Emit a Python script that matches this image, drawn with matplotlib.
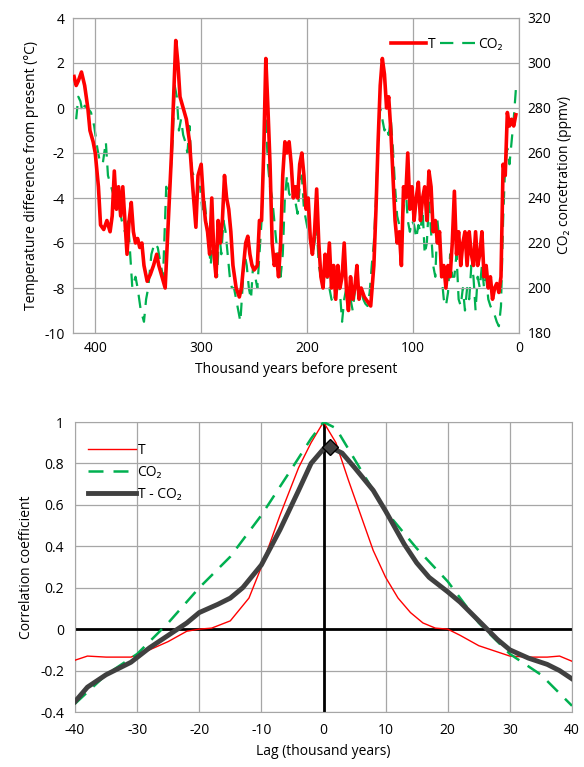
import numpy as np
from matplotlib import pyplot as plt

plt.rcParams["font.family"] = ["Open Sans", "DejaVu Sans"]
plt.rcParams["font.size"] = 10
plt.rcParams["axes.unicode_minus"] = False

# top panel: temperature (deg C) and CO2 (ppmv) vs age (kyr BP)
t_age = [420, 418, 416, 413, 410, 407, 405, 402, 400, 397, 395, 392, 389, 386, 384, 382, 380, 378, 376, 374,
         372, 370, 368, 366, 364, 362, 360, 358, 356, 354, 351, 348, 345, 342, 340, 337, 334, 332, 330, 328,
         326, 324, 322, 320, 317, 314, 311, 308, 305, 303, 300, 298, 296, 294, 292, 290, 288, 286, 284, 282,
         280, 278, 276, 274, 272, 270, 267, 264, 262, 260, 258, 256, 254, 252, 250, 247, 245, 243, 241, 239,
         237, 235, 233, 231, 229, 227, 225, 223, 221, 219, 217, 215, 213, 211, 209, 207, 205, 203, 201, 199,
         197, 195, 193, 191, 189, 187, 185, 183, 181, 179, 177, 175, 173, 171, 169, 167, 165, 163, 161, 159,
         157, 155, 153, 151, 149, 146, 143, 140, 137, 135, 133, 131, 129, 127, 125, 123, 121, 119, 117, 115,
         113, 111, 109, 107, 105, 103, 101, 99, 97, 95, 93, 91, 89, 87, 85, 83, 81, 79, 77, 75,
         73, 71, 69, 67, 65, 63, 61, 59, 57, 55, 53, 51, 49, 47, 45, 43, 41, 39, 37, 35,
         33, 31, 29, 27, 25, 23, 21, 19, 17, 15, 13, 11, 9, 7, 5, 3]
t_val = [1.4, 1.0, 1.2, 1.6, 1.0, 0.0, -1.0, -1.5, -2.0, -3.5, -5.2, -5.4, -5.0, -5.5, -4.8, -2.8, -4.5, -3.5, -4.8, -3.5,
         -5.0, -6.5, -5.0, -4.2, -5.5, -6.0, -5.8, -6.2, -6.0, -7.0, -7.7, -7.4, -7.0, -6.5, -7.0, -7.5, -8.0, -6.0, -4.0, -2.0,
         0.5, 3.0, 2.0, 0.5, 0.0, -0.5, -1.5, -3.5, -5.3, -3.0, -2.5, -4.0, -5.0, -5.5, -6.5, -4.0, -6.5, -7.5, -5.0, -6.0,
         -5.0, -3.0, -4.0, -4.5, -5.5, -7.0, -8.0, -8.4, -8.0, -7.0, -6.0, -5.7, -6.5, -7.0, -7.2, -7.0, -5.0, -5.0, -2.0, 2.2,
         0.0, -2.5, -6.0, -7.0, -6.5, -7.5, -6.0, -3.0, -1.5, -2.0, -1.5, -2.5, -4.0, -3.5, -4.0, -2.5, -2.0, -3.0, -4.5, -4.0,
         -5.8, -6.5, -5.5, -3.6, -6.0, -7.5, -8.0, -6.5, -7.5, -6.0, -8.0, -7.0, -8.5, -7.0, -8.0, -7.5, -6.0, -8.0, -9.0, -7.5,
         -8.5, -8.0, -7.0, -8.5, -8.0, -8.4, -8.6, -8.8, -7.0, -4.5, -1.5, 1.0, 2.2, 1.5, 0.0, 0.5, -1.0, -3.0, -5.0, -6.0,
         -5.5, -7.0, -3.5, -4.0, -2.0, -4.5, -3.5, -5.0, -4.0, -3.3, -5.0, -4.0, -3.5, -5.0, -2.8, -3.5, -5.5, -5.0, -6.0, -5.5,
         -7.5, -7.0, -8.0, -7.0, -7.5, -6.0, -3.7, -6.5, -5.5, -7.0, -6.0, -5.5, -7.0, -5.5, -6.5, -7.0, -5.5, -7.0, -6.5, -5.5,
         -7.5, -7.0, -8.0, -7.5, -8.5, -8.0, -7.8, -8.2, -7.5, -2.5, -3.0, -0.2, -0.8, -0.5, -0.8, -0.3]

co2_age = [418, 416, 414, 412, 410, 407, 404, 401, 398, 396, 393, 390, 388, 385, 382, 380, 377, 375, 372, 369,
           367, 365, 362, 360, 357, 354, 352, 350, 347, 344, 341, 338, 336, 333, 331, 329, 327, 325, 323, 321,
           319, 317, 315, 313, 311, 309, 307, 305, 303, 301, 299, 297, 295, 293, 291, 289, 287, 285, 283, 281,
           279, 277, 275, 273, 271, 269, 267, 265, 263, 261, 259, 257, 255, 253, 251, 249, 247, 245, 243, 241,
           239, 237, 235, 233, 231, 229, 227, 225, 223, 221, 219, 217, 215, 213, 211, 209, 207, 205, 203, 201,
           199, 197, 195, 193, 191, 189, 187, 185, 183, 181, 179, 177, 175, 173, 171, 169, 167, 165, 163, 161,
           159, 157, 155, 153, 151, 149, 147, 145, 143, 141, 139, 137, 135, 133, 131, 129, 127, 125, 123, 121,
           119, 117, 115, 113, 111, 109, 107, 105, 103, 101, 99, 97, 95, 93, 91, 89, 87, 85, 83, 81,
           79, 77, 75, 73, 71, 69, 67, 65, 63, 61, 59, 57, 55, 53, 51, 49, 47, 45, 43, 41,
           39, 37, 35, 33, 31, 29, 27, 25, 23, 21, 19, 17, 15, 13, 11, 9, 7, 5, 3]
co2_val = [275, 285, 283, 278, 281, 280, 278, 272, 262, 257, 255, 265, 250, 245, 240, 245, 235, 230, 225, 230,
           215, 200, 205, 200, 190, 185, 195, 200, 215, 220, 218, 210, 205, 245, 240, 250, 265, 290, 285, 270,
           275, 268, 265, 260, 272, 252, 250, 250, 245, 245, 235, 240, 230, 220, 210, 225, 210, 205, 225, 215,
           230, 225, 215, 205, 200, 200, 195, 190, 185, 200, 215, 210, 200, 195, 210, 205, 200, 215, 230, 260,
           275, 255, 245, 240, 230, 220, 215, 205, 215, 240, 250, 242, 240, 245, 238, 233, 245, 250, 235, 230,
           225, 222, 215, 220, 228, 210, 205, 200, 215, 205, 200, 195, 193, 200, 205, 198, 185, 195, 200, 190,
           195, 190, 198, 205, 195, 200, 195, 193, 192, 198, 210, 220, 240, 265, 280, 275, 270, 272, 268, 275,
           262, 245, 232, 228, 230, 235, 245, 230, 225, 230, 228, 222, 228, 225, 235, 215, 220, 238, 225, 210,
           205, 230, 220, 205, 195, 192, 198, 215, 205, 205, 215, 195, 192, 200, 190, 200, 195, 210, 205, 190,
           205, 200, 210, 200, 205, 195, 192, 190, 188, 185, 183, 192, 230, 255, 262, 255, 265, 275, 288]

# bottom panel: correlation vs lag
lag_t = [-40, -38, -35, -31, -28, -25, -22, -20, -18, -15, -12, -10, -7, -4, -2, 0,
         2, 4, 6, 8, 10, 12, 14, 16, 18, 20, 22, 25, 28, 30, 33, 36, 38, 40]
corr_t = [-0.15, -0.13, -0.135, -0.135, -0.10, -0.06, -0.01, 0.0, 0.005, 0.04, 0.15, 0.30, 0.55, 0.78, 0.9, 1.0,
          0.9, 0.72, 0.55, 0.38, 0.25, 0.15, 0.08, 0.03, 0.005, 0.0, -0.03, -0.08, -0.11, -0.13, -0.135, -0.135, -0.13, -0.155]
lag_c = [-40, -35, -30, -25, -20, -15, -10, -5, -2, 0, 2, 5, 10, 15, 20, 25, 30, 35, 40]
corr_c = [-0.36, -0.22, -0.12, 0.03, 0.2, 0.35, 0.55, 0.78, 0.92, 1.0, 0.97, 0.82, 0.57, 0.39, 0.23, 0.03, -0.12, -0.22, -0.37]
lag_tc = [-40, -38, -35, -31, -28, -25, -22, -20, -17, -15, -13, -10, -7, -4, -2, 0, 1, 3, 5, 8,
          10, 13, 15, 17, 20, 22, 24, 26, 28, 30, 33, 36, 38, 40]
corr_tc = [-0.35, -0.28, -0.22, -0.16, -0.09, -0.03, 0.03, 0.08, 0.12, 0.15, 0.2, 0.31, 0.48, 0.67, 0.8, 0.87, 0.88, 0.85, 0.78, 0.67,
           0.57, 0.41, 0.32, 0.25, 0.18, 0.13, 0.07, 0.01, -0.05, -0.1, -0.14, -0.17, -0.2, -0.24]
peak_lag, peak_corr = 1, 0.88

fig = plt.figure(figsize=(5.84, 7.67), dpi=100)
W, H = 584, 767
grid_kw = dict(color="#a6a6a6", lw=0.9)

ax1 = fig.add_axes([73 / W, 1 - 333 / H, (519 - 73) / W, (333 - 18) / H])
ax1.plot(t_age, t_val, color="#ff0000", lw=2.6, label="T", zorder=3)
ax1.set_xlim(421, 0)
ax1.set_ylim(-10, 4)
ax1.set_yticks(range(-10, 5, 2))
ax1.set_xticks([400, 300, 200, 100, 0])
ax1.grid(True, **grid_kw)
ax1.set_xlabel("Thousand years before present")
ax1.set_ylabel("Temperature difference from present (°C)")
ax2 = ax1.twinx()
ax2.plot(co2_age, co2_val, color="#00b050", lw=1.6, ls=(0, (6, 4)), label="CO₂", zorder=2)
ax2.set_ylim(180, 320)
ax2.set_ylabel("CO₂ concetration (ppmv)")
ax1.set_zorder(ax2.get_zorder() + 1)
ax1.patch.set_visible(False)
for a in (ax1, ax2):
    for s in a.spines.values():
        s.set_color("#a6a6a6")
    a.tick_params(length=0, pad=6)
h1, l1 = ax1.get_legend_handles_labels()
h2, l2 = ax2.get_legend_handles_labels()
ax1.legend(h1 + h2, l1 + l2, loc="upper right", ncol=2, frameon=False,
           handlelength=2.5, columnspacing=0.3, handletextpad=0.2, bbox_to_anchor=(0.99, 0.98))

ax3 = fig.add_axes([75 / W, 1 - 712 / H, (572 - 75) / W, (712 - 422) / H])
ax3.plot(lag_t, corr_t, color="#ff0000", lw=1.0, label="T", zorder=3)
ax3.plot(lag_c, corr_c, color="#00b050", lw=1.8, ls=(0, (6, 4)), label="CO₂", zorder=3)
ax3.plot(lag_tc, corr_tc, color="#404040", lw=3.5, label="T - CO₂", zorder=4)
ax3.plot([peak_lag], [peak_corr], marker="D", color="#404040", mec="black", ms=8, zorder=5)
ax3.axhline(0, color="black", lw=2, zorder=2)
ax3.axvline(0, color="black", lw=2, zorder=2)
ax3.set_xlim(-40, 40)
ax3.set_ylim(-0.4, 1)
ax3.set_xticks(range(-40, 41, 10))
ax3.set_yticks(np.round(np.arange(-0.4, 1.01, 0.2), 1))
ax3.set_yticklabels(["-0.4", "-0.2", "0", "0.2", "0.4", "0.6", "0.8", "1"])
ax3.grid(True, **grid_kw)
for s in ax3.spines.values():
    s.set_color("#a6a6a6")
ax3.tick_params(length=0, pad=8)
ax3.set_xlabel("Lag (thousand years)")
ax3.set_ylabel("Correlation coefficient")
ax3.legend(loc="upper left", frameon=False, handlelength=3.5, handletextpad=0.1,
           bbox_to_anchor=(0.0, 0.97))

fig.savefig("out.png", dpi=100)
